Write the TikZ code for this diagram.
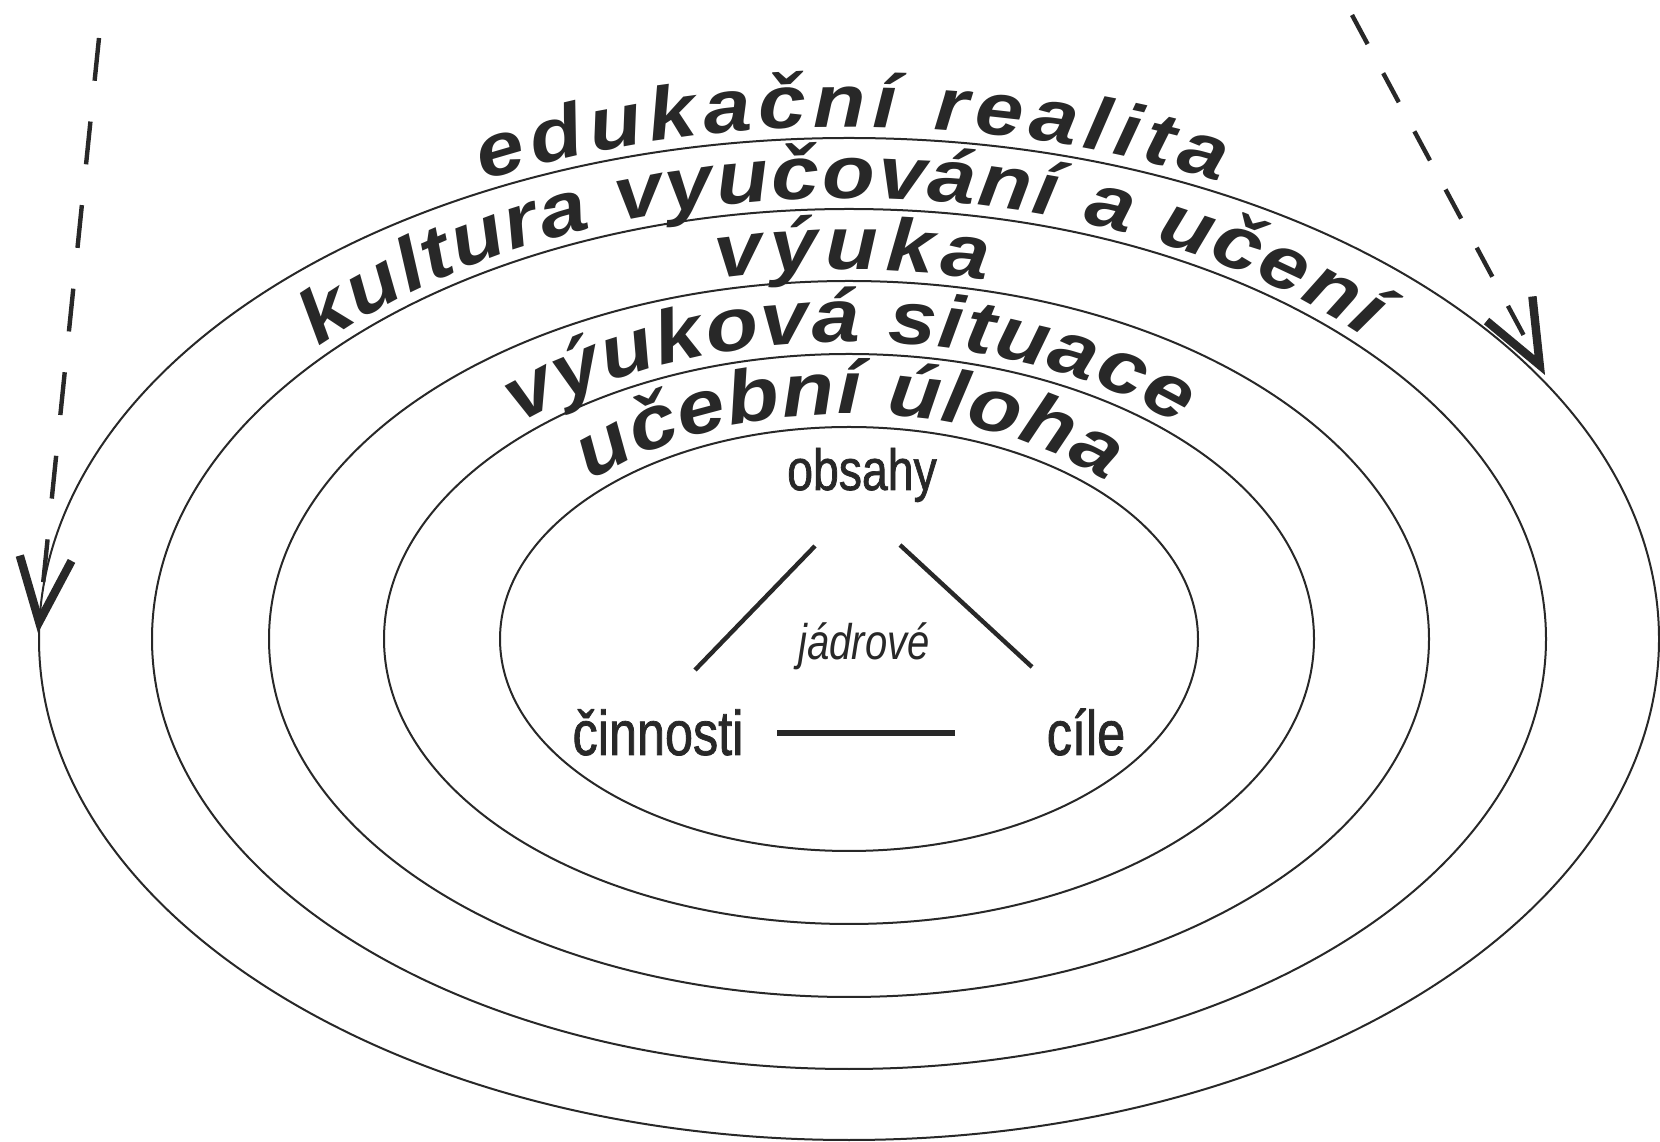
\documentclass[tikz,border=0pt]{standalone}
\usepackage{fontspec}
\usepackage{tikz}
\usetikzlibrary{arrows.meta,decorations.text}
\setmainfont{Liberation Sans}
\newfontfamily\ringfont{Liberation Sans}[FakeStretch=1.15]
\newfontfamily\corefont{Liberation Sans}[FakeStretch=0.8,FakeBold=1.2]
\newfontfamily\narrowfont{Liberation Sans}[FakeStretch=0.8]
\definecolor{inkGray}{RGB}{40,40,40}
\newcommand{\ringtext}{\ringfont\bfseries\itshape\fontsize{18.75}{22}\selectfont}

\begin{document}
\begin{tikzpicture}[
x=0.25pt, y=-0.25pt,
ring/.style={draw=inkGray, line width=0.5pt},
ringlabel/.style 2 args={decorate, decoration={text along path, text align=center, text color=inkGray, text={|\ringtext\kern#1|#2}}},
coretext/.style={inner sep=0pt, text=inkGray, anchor=base},
sideline/.style={draw=inkGray, line width=1.1pt},
dashflow/.style={draw=inkGray, line width=1.1pt, -{Straight Barb[length=16pt,width=13pt,line width=2.1pt]}}
]
\useasboundingbox (0,0) rectangle (1660,1142);

\foreach \rx/\ry in {349/212,465/285,580/358,697/430,810/501}
  \draw[ring] (849,639) ellipse [x radius=\rx, y radius=\ry];

\path[ringlabel={1.6pt}{edukační realita}] (28,639) arc[start angle=180, end angle=360, x radius=821, y radius=512];
\path[ringlabel={0.5pt}{kultura vyučování a učení}, decoration={text align={center, right indent=4.25pt}}] (141,639) arc[start angle=180, end angle=360, x radius=708, y radius=441];
\path[ringlabel={1.6pt}{výuka}] (258,639) arc[start angle=180, end angle=360, x radius=591, y radius=369];
\path[ringlabel={0.4pt}{výuková situace}] (372,639) arc[start angle=180, end angle=360, x radius=477, y radius=297];
\path[ringlabel={0.2pt}{učební úloha}] (487,639) arc[start angle=180, end angle=360, x radius=362, y radius=225];

\node[coretext, font=\corefont\fontsize{14.5}{17}\selectfont] (obsahy) at (862,490) {obsahy};
\node[coretext, font=\narrowfont\itshape\fontsize{12.5}{15}\selectfont] (jadrove) at (864,660) {jádrové};
\node[coretext, font=\corefont\fontsize{15.75}{18}\selectfont] (cinnosti) at (658,755) {činnosti};
\node[coretext, font=\corefont\fontsize{15.75}{18}\selectfont] (cile) at (1086,755) {cíle};

\coordinate (obsL) at (815,546);
\coordinate (cinT) at (695,670);
\coordinate (obsR) at (900,545);
\coordinate (cilT) at (1032,667);
\coordinate (cinR) at (777,733);
\coordinate (cilL) at (955,733);
\draw[sideline] (obsL) -- (cinT);
\draw[sideline] (obsR) -- (cilT);
\draw[sideline, line width=1.5pt] (cinR) -- (cilL);

\coordinate (leftFrom) at (99,38);
\coordinate (leftTip) at (38,633);
\coordinate (rightFrom) at (1352,15);
\coordinate (rightTip) at (1545,375);
\draw[dashflow, dash pattern=on 10.75pt off 10.25pt] (leftFrom) -- (leftTip);
\draw[dashflow, dash pattern=on 8.25pt off 8.25pt] (rightFrom) -- (rightTip);
\end{tikzpicture}
\end{document}
